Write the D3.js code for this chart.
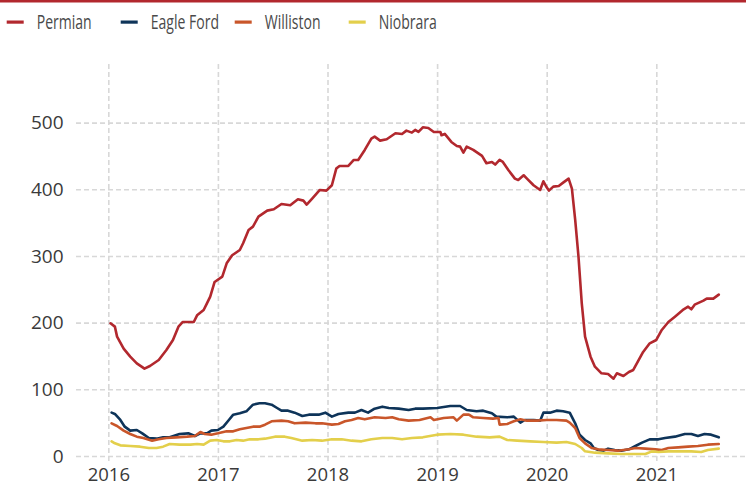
<!DOCTYPE html>
<html>
<head>
<meta charset="utf-8">
<script src="https://cdn.jsdelivr.net/npm/d3@7"></script>
<style>
  html, body { margin: 0; padding: 0; background: #ffffff; }
  svg { display: block; }
</style>
</head>
<body>
<svg id="chart" width="746" height="485"></svg>
<script>
// ---------- DATA ----------
const seriesNames = ["Permian", "Eagle Ford", "Williston", "Niobrara"];
const seriesColors = ["#b2282e", "#0e3459", "#c9562a", "#e3cf4b"];
const xTickYears = [2016, 2017, 2018, 2019, 2020, 2021];
const yTickValues = [0, 100, 200, 300, 400, 500];

const permianYears = [2016.02, 2016.06, 2016.08, 2016.14, 2016.20, 2016.26, 2016.33, 2016.38, 2016.46, 2016.53, 2016.59, 2016.64, 2016.68, 2016.78, 2016.81, 2016.87, 2016.90, 2016.93, 2016.97, 2017.04, 2017.08, 2017.13, 2017.20, 2017.23, 2017.28, 2017.32, 2017.37, 2017.45, 2017.51, 2017.58, 2017.66, 2017.73, 2017.78, 2017.81, 2017.86, 2017.93, 2017.99, 2018.04, 2018.08, 2018.11, 2018.19, 2018.24, 2018.28, 2018.34, 2018.40, 2018.43, 2018.48, 2018.54, 2018.62, 2018.68, 2018.72, 2018.77, 2018.80, 2018.83, 2018.87, 2018.92, 2018.97, 2019.03, 2019.04, 2019.07, 2019.13, 2019.18, 2019.21, 2019.24, 2019.27, 2019.33, 2019.41, 2019.45, 2019.50, 2019.53, 2019.57, 2019.60, 2019.65, 2019.71, 2019.74, 2019.79, 2019.82, 2019.88, 2019.94, 2019.97, 2020.00, 2020.02, 2020.06, 2020.11, 2020.15, 2020.20, 2020.23, 2020.26, 2020.29, 2020.32, 2020.35, 2020.40, 2020.44, 2020.50, 2020.56, 2020.61, 2020.64, 2020.70, 2020.75, 2020.79, 2020.84, 2020.88, 2020.94, 2021.00, 2021.05, 2021.11, 2021.17, 2021.25, 2021.29, 2021.32, 2021.35, 2021.43, 2021.46, 2021.52, 2021.57];
const permianValues = [199, 194, 179, 161, 149, 139, 131, 135, 144, 159, 174, 194, 201, 201, 211, 219, 229, 239, 261, 269, 289, 301, 309, 319, 339, 344, 359, 368, 370, 378, 376, 385, 383, 377, 386, 399, 398, 406, 431, 435, 435, 444, 444, 459, 476, 479, 473, 475, 484, 483, 488, 485, 489, 486, 493, 492, 486, 486, 481, 483, 471, 465, 464, 455, 464, 459, 450, 439, 441, 437, 444, 441, 429, 416, 414, 421, 416, 406, 399, 412, 403, 398, 404, 405, 410, 416, 401, 354, 299, 229, 179, 149, 134, 124, 123, 116, 124, 120, 126, 129, 144, 156, 169, 174, 189, 201, 209, 220, 224, 220, 227, 233, 236, 236, 242];

const eagleFordYears = [2016.03, 2016.06, 2016.11, 2016.15, 2016.20, 2016.26, 2016.31, 2016.37, 2016.44, 2016.50, 2016.56, 2016.65, 2016.73, 2016.79, 2016.84, 2016.90, 2016.94, 2017.00, 2017.05, 2017.10, 2017.14, 2017.20, 2017.26, 2017.32, 2017.38, 2017.43, 2017.49, 2017.54, 2017.58, 2017.64, 2017.70, 2017.77, 2017.83, 2017.92, 2017.98, 2018.04, 2018.10, 2018.19, 2018.25, 2018.31, 2018.37, 2018.43, 2018.50, 2018.56, 2018.65, 2018.74, 2018.80, 2018.87, 2019.00, 2019.12, 2019.21, 2019.27, 2019.36, 2019.42, 2019.50, 2019.54, 2019.64, 2019.70, 2019.76, 2019.80, 2019.88, 2019.94, 2019.97, 2020.03, 2020.09, 2020.15, 2020.21, 2020.26, 2020.30, 2020.35, 2020.40, 2020.43, 2020.47, 2020.52, 2020.56, 2020.62, 2020.68, 2020.75, 2020.81, 2020.87, 2020.94, 2021.02, 2021.08, 2021.17, 2021.26, 2021.32, 2021.38, 2021.44, 2021.50, 2021.57];
const eagleFordValues = [65, 63, 54, 44, 38, 39, 34, 27, 26, 28, 28, 33, 34, 30, 34, 34, 38, 39, 44, 54, 62, 64, 67, 77, 79, 79, 77, 72, 68, 68, 65, 60, 62, 62, 65, 59, 63, 65, 65, 69, 65, 71, 74, 72, 71, 69, 71, 71, 72, 75, 75, 69, 67, 68, 64, 59, 58, 59, 50, 54, 54, 53, 65, 65, 68, 67, 65, 49, 32, 24, 19, 12, 9, 8, 11, 9, 8, 10, 15, 20, 25, 25, 27, 29, 33, 33, 30, 33, 32, 28];

const willistonYears = [2016.03, 2016.08, 2016.14, 2016.20, 2016.26, 2016.32, 2016.40, 2016.46, 2016.53, 2016.62, 2016.72, 2016.79, 2016.84, 2016.88, 2016.94, 2017.00, 2017.08, 2017.14, 2017.20, 2017.26, 2017.32, 2017.38, 2017.43, 2017.49, 2017.58, 2017.64, 2017.70, 2017.80, 2017.89, 2017.95, 2018.04, 2018.10, 2018.16, 2018.22, 2018.28, 2018.34, 2018.43, 2018.53, 2018.59, 2018.65, 2018.74, 2018.84, 2018.94, 2018.97, 2019.06, 2019.15, 2019.18, 2019.24, 2019.29, 2019.33, 2019.42, 2019.51, 2019.56, 2019.57, 2019.64, 2019.70, 2019.76, 2019.82, 2019.91, 2020.00, 2020.09, 2020.18, 2020.21, 2020.26, 2020.30, 2020.35, 2020.41, 2020.47, 2020.56, 2020.65, 2020.75, 2020.81, 2020.90, 2020.99, 2021.05, 2021.11, 2021.20, 2021.29, 2021.38, 2021.47, 2021.57];
const willistonValues = [49, 45, 38, 33, 29, 27, 23, 25, 27, 28, 29, 30, 36, 33, 32, 34, 37, 37, 40, 42, 44, 44, 47, 52, 53, 52, 49, 50, 49, 49, 47, 48, 52, 54, 57, 55, 58, 57, 58, 55, 53, 54, 58, 54, 57, 58, 53, 62, 62, 58, 57, 56, 57, 47, 48, 52, 55, 53, 53, 54, 54, 53, 50, 42, 27, 19, 12, 10, 9, 8, 10, 12, 11, 10, 9, 12, 13, 14, 15, 17, 18];

const niobraraYears = [2016.03, 2016.06, 2016.11, 2016.20, 2016.29, 2016.37, 2016.44, 2016.50, 2016.56, 2016.65, 2016.75, 2016.81, 2016.87, 2016.93, 2016.99, 2017.05, 2017.11, 2017.17, 2017.23, 2017.29, 2017.37, 2017.43, 2017.52, 2017.61, 2017.67, 2017.77, 2017.86, 2017.95, 2018.04, 2018.13, 2018.22, 2018.31, 2018.40, 2018.50, 2018.59, 2018.68, 2018.77, 2018.87, 2019.00, 2019.12, 2019.24, 2019.36, 2019.48, 2019.57, 2019.64, 2019.73, 2019.85, 2019.97, 2020.09, 2020.18, 2020.26, 2020.32, 2020.35, 2020.44, 2020.56, 2020.68, 2020.81, 2020.90, 2020.96, 2021.02, 2021.11, 2021.23, 2021.32, 2021.41, 2021.47, 2021.57];
const niobraraValues = [22, 19, 16, 15, 14, 12, 12, 14, 18, 17, 17, 18, 17, 23, 24, 22, 22, 24, 23, 25, 25, 26, 29, 29, 27, 23, 24, 23, 25, 25, 23, 22, 25, 27, 27, 25, 27, 28, 32, 33, 32, 29, 28, 29, 24, 23, 22, 21, 20, 21, 18, 12, 7, 5, 4, 3, 3, 3, 7, 6, 7, 7, 7, 6, 9, 11];

// ---------- LAYOUT ----------
const W = 746, H = 485;
const svg = d3.select("#chart");

const x = d3.scaleLinear().domain([2016, 2021]).range([108.3, 656.3]);
const y = d3.scaleLinear().domain([0, 500]).range([456, 122.6]);

const gridColor = "#d8d8d8";
const plotLeft = 76, plotTop = 62, plotBottom = 461;
const tickFont = "'Open Sans', 'Noto Sans', sans-serif";

// top red rule
svg.append("rect").attr("x", 0).attr("y", 0).attr("width", W).attr("height", 2.5).attr("fill", "#b2282e");

// Y axis with gridlines
const yAxis = svg.append("g")
  .attr("transform", `translate(${plotLeft},0)`)
  .call(d3.axisLeft(y).tickValues(yTickValues).tickSize(-(W - plotLeft)).tickPadding(12.5).tickFormat(d3.format("d")));
yAxis.select(".domain").remove();
yAxis.selectAll(".tick line").attr("stroke", gridColor).attr("stroke-width", 1.6).attr("stroke-dasharray", "5,3");
yAxis.selectAll(".tick text")
  .attr("fill", "#3a3a3a")
  .style("font-family", tickFont)
  .style("font-size", "19px");

// X axis with gridlines
const xAxis = svg.append("g")
  .attr("transform", `translate(0,${plotBottom})`)
  .call(d3.axisBottom(x).tickValues(xTickYears).tickSize(-(plotBottom - plotTop)).tickPadding(7).tickFormat(d3.format("d")));
xAxis.select(".domain").remove();
xAxis.selectAll(".tick line").attr("stroke", gridColor).attr("stroke-width", 1.6).attr("stroke-dasharray", "5,3");
xAxis.selectAll(".tick text")
  .attr("fill", "#3a3a3a")
  .style("font-family", tickFont)
  .style("font-size", "18.5px");

// series
const seriesData = [
  d3.zip(permianYears, permianValues),
  d3.zip(eagleFordYears, eagleFordValues),
  d3.zip(willistonYears, willistonValues),
  d3.zip(niobraraYears, niobraraValues)
];

const line = d3.line().x(d => x(d[0])).y(d => y(d[1])).curve(d3.curveLinear);

const order = [1, 2, 3, 0];
order.forEach(i => {
  svg.append("path")
    .datum(seriesData[i])
    .attr("fill", "none")
    .attr("stroke", seriesColors[i])
    .attr("stroke-width", 2.6)
    .attr("stroke-linejoin", "round")
    .attr("stroke-linecap", "round")
    .attr("d", line);
});

// legend (condensed look: horizontally compressed text)
const legend = svg.append("g").attr("transform", "translate(6.7,0)");
seriesNames.forEach((name, i) => {
  const g = legend.append("g").attr("transform", `translate(${i * 114},0)`);
  g.append("rect").attr("x", 0).attr("y", 20.5).attr("width", 17).attr("height", 3.2).attr("fill", seriesColors[i]);
  g.append("text")
    .attr("transform", "translate(30,29) scale(0.72,1)")
    .attr("fill", "#4a4a4a")
    .style("font-family", "'Open Sans', 'Noto Sans', sans-serif")
    .style("font-size", "19.5px")
    .text(name);
});
</script>
</body>
</html>
